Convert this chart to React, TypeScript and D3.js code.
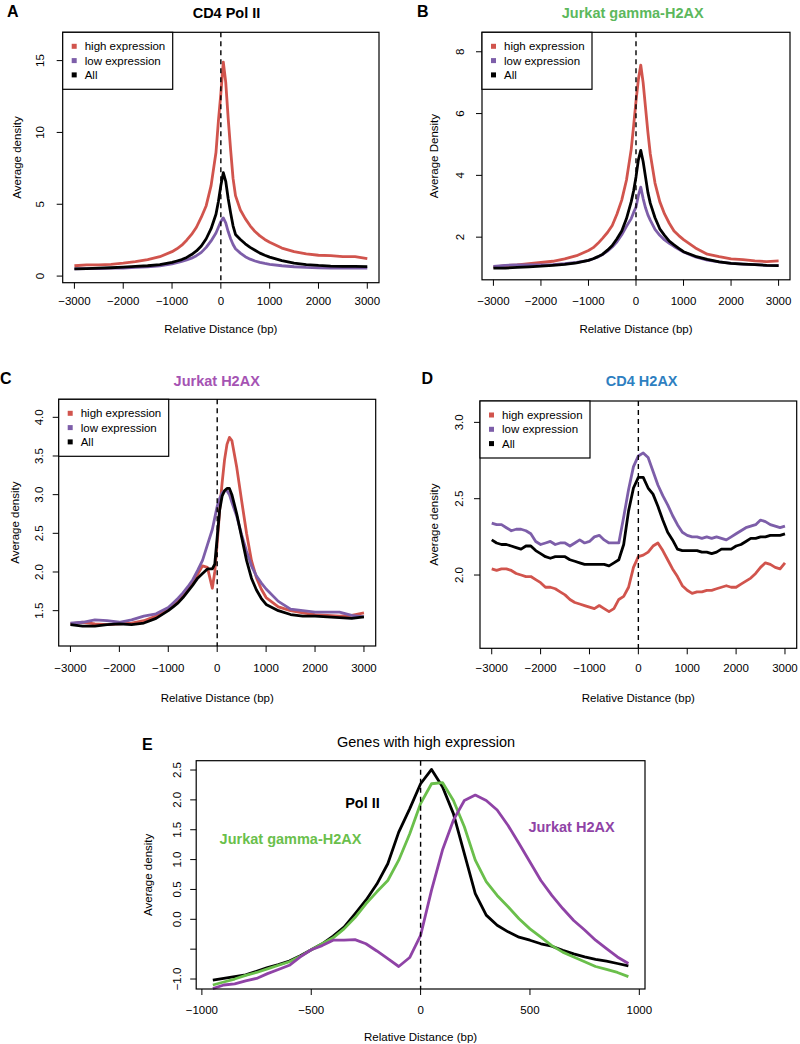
import React from "react";
import * as d3 from "d3";

// shared x positions (bp) for panels A-C
const xGrid = [
  -3000, -2750, -2500, -2250, -2000, -1750, -1500, -1250, -1000, -900, -800, -700, -600, -500, -400, -300, -200,
  -100, -50, 0, 50, 100, 150, 200, 250, 300, 400, 500, 600, 700, 800, 900, 1000, 1250, 1500, 1750, 2000, 2250,
  2500, 2750, 3000,
];
// panel D is noisier: every 100 bp
const xGridD = d3.range(-3000, 3001, 100);
// panel E: every 50 bp
const xGridE = d3.range(-950, 951, 50);

// A: CD4 Pol II
const polHigh = [
  0.72, 0.78, 0.78, 0.82, 0.9, 1.0, 1.15, 1.35, 1.7, 1.9, 2.15, 2.5, 2.9, 3.4, 4.1, 4.9, 6.3, 8.6, 10.8, 12.7, 14.9,
  13.5, 11.0, 8.8, 6.8, 5.6, 4.6, 4.0, 3.5, 3.1, 2.8, 2.55, 2.35, 1.95, 1.7, 1.55, 1.45, 1.42, 1.35, 1.35, 1.22,
];
const polLow = [
  0.5, 0.52, 0.53, 0.55, 0.56, 0.6, 0.64, 0.72, 0.85, 0.93, 1.02, 1.12, 1.25, 1.42, 1.65, 2.0, 2.45, 3.0, 3.4, 3.8,
  4.05, 3.7, 3.1, 2.6, 2.2, 1.9, 1.6, 1.35, 1.18, 1.05, 0.95, 0.88, 0.82, 0.72, 0.65, 0.6, 0.58, 0.56, 0.55, 0.55,
  0.55,
];
const polAll = [
  0.5, 0.52, 0.55, 0.58, 0.62, 0.67, 0.72, 0.8, 0.95, 1.05, 1.15, 1.3, 1.5, 1.75, 2.1, 2.6, 3.3, 4.3, 5.2, 6.3, 7.2,
  6.6, 5.4, 4.4, 3.5, 2.9, 2.55, 2.25, 2.0, 1.8, 1.6, 1.45, 1.32, 1.08, 0.9, 0.8, 0.74, 0.7, 0.68, 0.67, 0.66,
];

// B: Jurkat gamma-H2AX
const gammaHigh = [
  1.03, 1.08, 1.1, 1.14, 1.18, 1.22, 1.3, 1.4, 1.57, 1.66, 1.8, 1.97, 2.15, 2.38, 2.75, 3.2, 3.85, 4.85, 5.6, 6.4,
  7.1, 7.57, 7.0, 6.2, 5.4, 4.7, 3.75, 3.15, 2.75, 2.45, 2.2, 2.05, 1.92, 1.65, 1.45, 1.37, 1.3, 1.27, 1.23, 1.21,
  1.23,
];
const gammaLow = [
  1.05, 1.09, 1.1, 1.1, 1.1, 1.11, 1.14, 1.18, 1.25, 1.3, 1.36, 1.44, 1.55, 1.68, 1.85, 2.08, 2.35, 2.6, 2.8, 2.97,
  3.35, 3.62, 3.25, 2.95, 2.72, 2.55, 2.25, 2.06, 1.91, 1.8, 1.7, 1.61, 1.52, 1.36, 1.26, 1.2, 1.15, 1.13, 1.11,
  1.09, 1.08,
];
const gammaAll = [
  1.0, 1.0, 1.02, 1.04, 1.06, 1.09, 1.12, 1.17, 1.25, 1.3, 1.37, 1.45, 1.58, 1.73, 1.95, 2.2, 2.6, 3.15, 3.5, 3.95,
  4.5, 4.81, 4.45, 3.95, 3.45, 3.1, 2.63, 2.27, 2.06, 1.87, 1.75, 1.64, 1.53, 1.38, 1.28, 1.2, 1.15, 1.13, 1.11, 1.09,
  1.08,
];

// C: Jurkat H2AX
const jH2axHigh = [
  1.33, 1.35, 1.33, 1.32, 1.33, 1.34, 1.37, 1.43, 1.52, 1.57, 1.63, 1.7, 1.78, 1.87, 1.97, 2.08, 2.06, 1.79, 2.0,
  2.37, 2.8, 3.15, 3.45, 3.65, 3.74, 3.7, 3.35, 2.92, 2.5, 2.15, 1.93, 1.78, 1.67, 1.55, 1.5, 1.47, 1.45, 1.44, 1.43,
  1.44, 1.47,
];
const jH2axLow = [
  1.34, 1.35, 1.38, 1.37, 1.35, 1.38, 1.43, 1.46, 1.54, 1.6, 1.66, 1.73, 1.81, 1.9, 2.02, 2.15, 2.35, 2.55, 2.7,
  2.85, 2.95, 3.02, 3.05, 3.05, 3.0, 2.9, 2.72, 2.48, 2.27, 2.08, 1.95, 1.86, 1.78, 1.62, 1.52, 1.5, 1.48, 1.48,
  1.48, 1.44, 1.42,
];
const jH2axAll = [
  1.32, 1.3, 1.3, 1.32, 1.33, 1.32, 1.34, 1.4, 1.5, 1.55, 1.6, 1.67, 1.75, 1.83, 1.92, 1.98, 2.04, 2.04, 2.1, 2.45,
  2.8, 2.98, 3.05, 3.08, 3.08, 3.0, 2.75, 2.45, 2.15, 1.92, 1.77, 1.66, 1.58, 1.5, 1.45, 1.43, 1.43, 1.42, 1.41, 1.4,
  1.42,
];

// D: CD4 H2AX
const cdH2axHigh = [
  2.04, 2.03, 2.04, 2.04, 2.03, 2.01, 2.0, 1.99, 1.99, 1.97, 1.95, 1.92, 1.92, 1.91, 1.89, 1.87, 1.84, 1.82, 1.81,
  1.8, 1.79, 1.78, 1.8, 1.78, 1.76, 1.78, 1.84, 1.86, 1.92, 2.05, 2.12, 2.13, 2.15, 2.19, 2.21, 2.16, 2.1, 2.04, 1.99,
  1.93, 1.9, 1.88, 1.89, 1.89, 1.9, 1.9, 1.91, 1.92, 1.93, 1.92, 1.92, 1.94, 1.96, 1.98, 2.01, 2.05, 2.08, 2.07,
  2.05, 2.04, 2.08,
];
const cdH2axLow = [
  2.34, 2.33, 2.33, 2.31, 2.29, 2.3, 2.3, 2.29, 2.27, 2.22, 2.2, 2.21, 2.22, 2.2, 2.21, 2.21, 2.19, 2.21, 2.23, 2.21,
  2.22, 2.25, 2.26, 2.23, 2.21, 2.21, 2.21, 2.38, 2.56, 2.71, 2.78, 2.8, 2.77, 2.68, 2.59, 2.52, 2.46, 2.39, 2.33,
  2.28, 2.26, 2.25, 2.25, 2.24, 2.25, 2.24, 2.25, 2.24, 2.23, 2.25, 2.27, 2.29, 2.31, 2.32, 2.33, 2.36, 2.35, 2.33,
  2.32, 2.31, 2.32,
];
const cdH2axAll = [
  2.23, 2.21, 2.2, 2.2, 2.19, 2.18, 2.17, 2.19, 2.19, 2.16, 2.14, 2.12, 2.11, 2.12, 2.12, 2.12, 2.1, 2.09, 2.08, 2.07,
  2.07, 2.07, 2.07, 2.07, 2.06, 2.08, 2.1, 2.2, 2.42, 2.57, 2.64, 2.64, 2.57, 2.53, 2.45, 2.36, 2.28, 2.23, 2.17,
  2.16, 2.16, 2.16, 2.16, 2.15, 2.15, 2.14, 2.15, 2.17, 2.17, 2.17, 2.19, 2.2, 2.22, 2.24, 2.24, 2.25, 2.25, 2.26,
  2.26, 2.26, 2.27,
];

// E: genes with high expression
const ePol = [
  -1.02, -0.99, -0.96, -0.93, -0.87, -0.81, -0.76, -0.7, -0.61, -0.51, -0.41, -0.28, -0.13, 0.09, 0.32, 0.59, 0.93,
  1.46, 1.85, 2.27, 2.51, 2.22, 1.77, 1.1, 0.43, 0.07, -0.1, -0.21, -0.3, -0.35, -0.41, -0.45, -0.52, -0.58, -0.63,
  -0.67, -0.7, -0.74, -0.78,
];
const eGamma = [
  -1.1, -1.05, -1.0, -0.94, -0.89, -0.83, -0.77, -0.71, -0.62, -0.51, -0.41, -0.31, -0.16, 0.03, 0.26, 0.46, 0.65,
  0.99, 1.43, 1.94, 2.27, 2.29, 1.99, 1.55, 0.99, 0.63, 0.4, 0.21, 0.01, -0.16, -0.3, -0.44, -0.55, -0.63, -0.71,
  -0.79, -0.84, -0.89, -0.96,
];
const eH2ax = [
  -1.16, -1.1, -1.08, -1.03, -0.99, -0.91, -0.84, -0.77, -0.63, -0.51, -0.44, -0.35, -0.35, -0.34, -0.41, -0.53,
  -0.66, -0.79, -0.64, -0.27, 0.49, 1.16, 1.66, 1.99, 2.08, 1.99, 1.83, 1.57, 1.27, 0.96, 0.65, 0.4, 0.18, -0.02,
  -0.18, -0.35, -0.49, -0.63, -0.74,
];

const xTicks = [-3000, -2000, -1000, 0, 1000, 2000, 3000];
const xTicksE = [-1000, -500, 0, 500, 1000];
const legendLabels = ["high expression", "low expression", "All"];

const RED = "#d1544d";
const PURPLE = "#7d5ea9";
const BLACK = "#000000";
const FONT = "'Liberation Sans', Arial, Helvetica, sans-serif";

const fmtTick = (v: number) => (v < 0 ? "\u2212" + Math.abs(v) : String(v));

interface Series {
  x: number[];
  y: number[];
  color: string;
}

interface PanelProps {
  letter: string;
  letterX: number;
  letterY: number;
  title: string;
  titleColor: string;
  titleX: number;
  titleY: number;
  titleBold: boolean;
  box: { left: number; right: number; top: number; bottom: number };
  xDomain: [number, number];
  yDomain: [number, number];
  xTickVals: number[];
  yTickVals: number[];
  yTickText: (v: number) => string;
  tickLabelY: number;
  xTitleY: number;
  yTickX: number;
  yTitleX: number;
  yTitle: string;
  series: Series[];
  legend: boolean;
}

function Panel(p: PanelProps): JSX.Element {
  const { box } = p;
  const x = d3.scaleLinear().domain(p.xDomain).range([box.left, box.right]);
  const y = d3.scaleLinear().domain(p.yDomain).range([box.bottom, box.top]);

  const line = d3
    .line<[number, number]>()
    .x((d) => x(d[0]))
    .y((d) => y(d[1]));

  const legendColors = [RED, PURPLE, BLACK];
  const lw = 110;
  const lh = 57;

  return (
    <g fontFamily={FONT}>
      <text x={p.letterX} y={p.letterY} fontSize={16} fontWeight="bold">
        {p.letter}
      </text>
      <text
        x={p.titleX}
        y={p.titleY}
        fontSize={14.5}
        fontWeight={p.titleBold ? "bold" : "normal"}
        fill={p.titleColor}
        textAnchor="middle"
      >
        {p.title}
      </text>

      {p.series.map((s, i) => (
        <path
          key={i}
          d={line(s.x.map((v, j) => [v, s.y[j]] as [number, number])) || ""}
          fill="none"
          stroke={s.color}
          strokeWidth={2.8}
          strokeLinejoin="round"
        />
      ))}

      <line
        x1={x(0)}
        x2={x(0)}
        y1={box.top}
        y2={box.bottom}
        stroke="#000"
        strokeWidth={1.4}
        strokeDasharray="5,4"
      />

      <rect
        x={box.left}
        y={box.top}
        width={box.right - box.left}
        height={box.bottom - box.top}
        fill="none"
        stroke="#000"
        strokeWidth={1.2}
      />

      {p.xTickVals.map((t) => (
        <g key={t}>
          <line x1={x(t)} x2={x(t)} y1={box.bottom} y2={box.bottom + 6} stroke="#000" strokeWidth={1} />
          <text x={x(t)} y={p.tickLabelY} dy="0.35em" fontSize={11.5} textAnchor="middle">
            {fmtTick(t)}
          </text>
        </g>
      ))}
      <text x={(box.left + box.right) / 2} y={p.xTitleY} dy="0.35em" fontSize={11.5} textAnchor="middle">
        Relative Distance (bp)
      </text>

      {p.yTickVals.map((t) => (
        <g key={t}>
          <line x1={box.left - 6} x2={box.left} y1={y(t)} y2={y(t)} stroke="#000" strokeWidth={1} />
          <text
            transform={`translate(${p.yTickX},${y(t)}) rotate(-90)`}
            dy="0.35em"
            fontSize={11.5}
            textAnchor="middle"
          >
            {p.yTickText(t)}
          </text>
        </g>
      ))}
      <text
        transform={`translate(${p.yTitleX},${(box.top + box.bottom) / 2}) rotate(-90)`}
        dy="0.35em"
        fontSize={11.5}
        textAnchor="middle"
      >
        {p.yTitle}
      </text>

      {p.legend && (
        <g>
          <rect x={box.left} y={box.top} width={lw} height={lh} fill="#fff" stroke="#000" strokeWidth={1.2} />
          {legendLabels.map((lab, i) => (
            <g key={lab}>
              <rect
                x={box.left + 9}
                y={box.top + 14 + i * 14.3 - 2.5}
                width={5}
                height={5}
                fill={legendColors[i]}
              />
              <text x={box.left + 22} y={box.top + 14 + i * 14.3} dy="0.35em" fontSize={11.5}>
                {lab}
              </text>
            </g>
          ))}
        </g>
      )}
    </g>
  );
}

export default function App(): JSX.Element {
  const three = (hi: number[], lo: number[], all: number[], xs: number[]): Series[] => [
    { x: xs, y: hi, color: RED },
    { x: xs, y: lo, color: PURPLE },
    { x: xs, y: all, color: BLACK },
  ];
  const f1 = (v: number) => v.toFixed(1);
  const f0 = (v: number) => String(v);

  return (
    <svg
      width={800}
      height={1044}
      style={{ position: "absolute", left: 0, top: 0, background: "#fff" }}
    >
      <Panel
        letter="A"
        letterX={7}
        letterY={17}
        title="CD4 Pol II"
        titleColor="#000"
        titleX={226.5}
        titleY={18}
        titleBold
        box={{ left: 62.7, right: 379, top: 32.3, bottom: 282.7 }}
        xDomain={[-3240, 3240]}
        yDomain={[-0.46, 16.97]}
        xTickVals={xTicks}
        yTickVals={[0, 5, 10, 15]}
        yTickText={f0}
        tickLabelY={300.7}
        xTitleY={328.5}
        yTickX={40}
        yTitleX={16.7}
        yTitle="Average density"
        series={three(polHigh, polLow, polAll, xGrid)}
        legend
      />
      <Panel
        letter="B"
        letterX={417}
        letterY={17}
        title="Jurkat gamma-H2AX"
        titleColor="#5cb85c"
        titleX={632.7}
        titleY={18}
        titleBold
        box={{ left: 482, right: 790, top: 32.3, bottom: 279.8 }}
        xDomain={[-3240, 3240]}
        yDomain={[0.62, 8.63]}
        xTickVals={xTicks}
        yTickVals={[2, 4, 6, 8]}
        yTickText={f0}
        tickLabelY={300.7}
        xTitleY={328.5}
        yTickX={460}
        yTitleX={434}
        yTitle="Average Density"
        series={three(gammaHigh, gammaLow, gammaAll, xGrid)}
        legend
      />
      <Panel
        letter="C"
        letterX={0}
        letterY={383.5}
        title="Jurkat H2AX"
        titleColor="#a553b3"
        titleX={216.7}
        titleY={386}
        titleBold
        box={{ left: 58.7, right: 375.7, top: 399.3, bottom: 646 }}
        xDomain={[-3240, 3240]}
        yDomain={[1.043, 4.233]}
        xTickVals={xTicks}
        yTickVals={[1.5, 2.0, 2.5, 3.0, 3.5, 4.0]}
        yTickText={f1}
        tickLabelY={668.3}
        xTitleY={697.7}
        yTickX={39.3}
        yTitleX={15}
        yTitle="Average density"
        series={three(jH2axHigh, jH2axLow, jH2axAll, xGrid)}
        legend
      />
      <Panel
        letter="D"
        letterX={421.5}
        letterY={383.5}
        title="CD4 H2AX"
        titleColor="#2e7fc1"
        titleX={641.7}
        titleY={386}
        titleBold
        box={{ left: 480, right: 796.7, top: 401, bottom: 648.3 }}
        xDomain={[-3240, 3240]}
        yDomain={[1.52, 3.14]}
        xTickVals={xTicks}
        yTickVals={[2.0, 2.5, 3.0]}
        yTickText={f1}
        tickLabelY={668.3}
        xTitleY={697.7}
        yTickX={459.3}
        yTitleX={434.3}
        yTitle="Average density"
        series={three(cdH2axHigh, cdH2axLow, cdH2axAll, xGridD)}
        legend
      />
      <Panel
        letter="E"
        letterX={142}
        letterY={750}
        title="Genes with high expression"
        titleColor="#000"
        titleX={426}
        titleY={747}
        titleBold={false}
        box={{ left: 196.2, right: 645, top: 760.7, bottom: 989 }}
        xDomain={[-1026, 1026]}
        yDomain={[-1.167, 2.656]}
        xTickVals={xTicksE}
        yTickVals={[-1.0, -0.5, 0.0, 0.5, 1.0, 1.5, 2.0, 2.5]}
        yTickText={(v) => (v === -0.5 ? "" : v < 0 ? "\u2212" + Math.abs(v).toFixed(1) : v.toFixed(1))}
        tickLabelY={1010}
        xTitleY={1037}
        yTickX={177}
        yTitleX={148}
        yTitle="Average density"
        series={[
          { x: xGridE, y: ePol, color: "#000000" },
          { x: xGridE, y: eGamma, color: "#6abf4b" },
          { x: xGridE, y: eH2ax, color: "#8f43a6" },
        ]}
        legend={false}
      />
      <g fontFamily={FONT} fontWeight="bold" fontSize={14.5}>
        <text x={362.5} y={802.7} dy="0.35em" textAnchor="middle" fill="#000">
          Pol II
        </text>
        <text x={290.5} y={839} dy="0.35em" textAnchor="middle" fill="#6abf4b">
          Jurkat gamma-H2AX
        </text>
        <text x={571.5} y={826.7} dy="0.35em" textAnchor="middle" fill="#8f43a6">
          Jurkat H2AX
        </text>
      </g>
    </svg>
  );
}
